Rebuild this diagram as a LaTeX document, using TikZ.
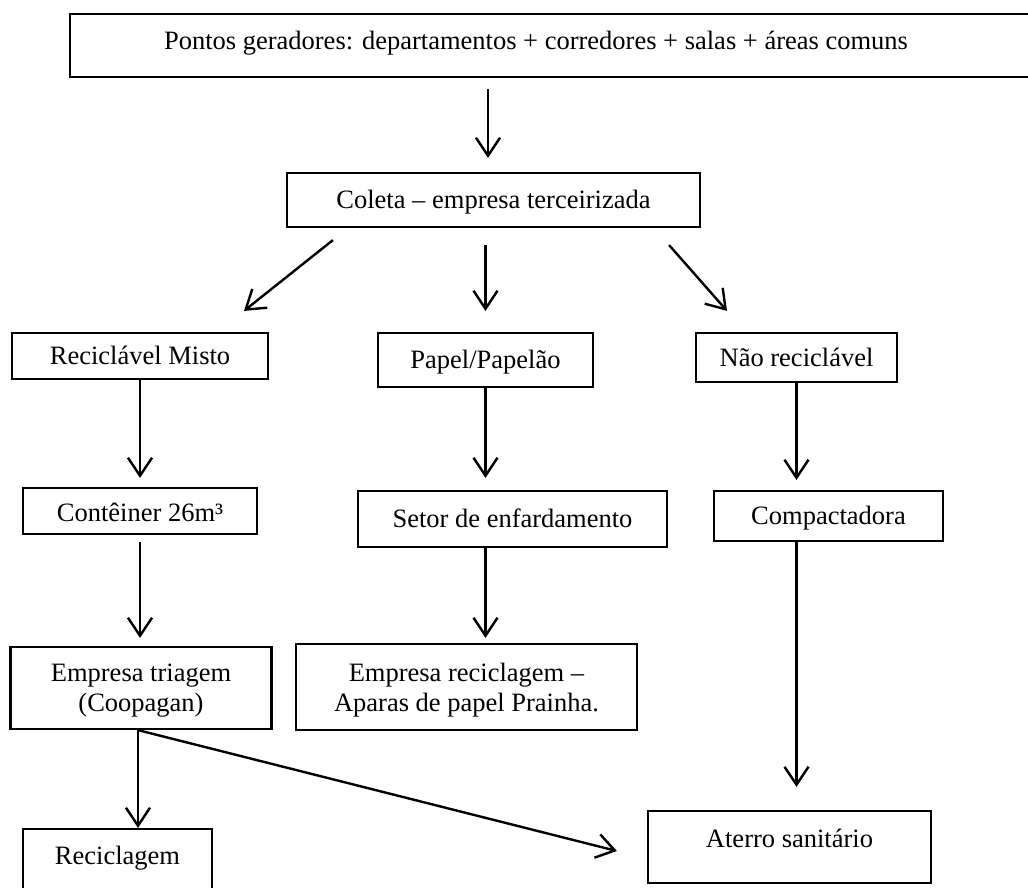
\documentclass[tikz,border=0pt]{standalone}
\usepackage{fontspec}
\setmainfont{Liberation Serif}
\usetikzlibrary{arrows.meta}
\tikzset{
  box/.style={draw, line width=2.2pt, inner sep=2pt, text height=17pt, text depth=0pt},
  flow/.style={line width=2.4pt, -{Straight Barb[length=18pt,width=24pt]}}
}
\begin{document}
\begin{tikzpicture}[x=1pt, y=-1pt, font=\fontsize{26.5}{30}\selectfont]
      \useasboundingbox (0,0) rectangle (1028,888);
      \draw
        (555,45.5) node[box, minimum width=970pt, minimum height=63pt, text depth=8pt] (src)
          {\hspace*{-38pt}Pontos geradores: departamentos + corredores + salas + áreas comuns}
        (493.5,200) node[box, minimum width=413pt, minimum height=54pt] (coleta) {Coleta – empresa terceirizada}
        (140,356) node[box, minimum width=256pt, minimum height=46pt] (misto) {Reciclável Misto}
        (485.5,360) node[box, minimum width=215pt, minimum height=54pt] (papel) {Papel/Papelão}
        (796.5,357.5) node[box, minimum width=201pt, minimum height=49pt] (naorec) {Não reciclável}
        (140,511) node[box, minimum width=234pt, minimum height=46pt, text height=21pt] (conteiner) {Contêiner 26m³}
        (512.5,519) node[box, minimum width=309pt, minimum height=56pt] (setor) {Setor de enfardamento}
        (828.5,516) node[box, minimum width=229pt, minimum height=50pt] (compact) {Compactadora}
        (141,688) node[box, align=center, minimum width=261pt, minimum height=82pt, text height=46pt] (triagem) {Empresa triagem\\(Coopagan)}
        (466.5,687) node[box, align=center, minimum width=341pt, minimum height=86pt, text height=48pt] (reclagem) {Empresa reciclagem –\\Aparas de papel Prainha.}
        (117.5,864) node[box, anchor=base, minimum width=189pt, inner ysep=0pt, text height=35pt, text depth=40pt] (recic) {Reciclagem}
        (789.5,847) node[box, anchor=base, minimum width=283pt, inner ysep=0pt, text height=36pt, text depth=36pt] (aterro) {Aterro sanitário};
      \begin{scope}[flow]
        \draw[shorten <=11pt, shorten >=14pt] ([xshift=-5.5pt]coleta.north |- src.south) to ([xshift=-5.5pt]coleta.north);
        \draw ([xshift=47pt, yshift=-12pt]coleta.south west) to ([xshift=104pt, yshift=21pt]misto.north);
        \draw[shorten <=17pt, shorten >=21pt] (papel.north |- coleta.south) to (papel.north);
        \draw ([xshift=-32pt, yshift=-17pt]coleta.south east) to ([xshift=-69.5pt, yshift=21pt]naorec.north);
        \draw[shorten >=9pt] (misto.south) to (conteiner.north);
        \draw[shorten >=12pt] (papel.south) to (papel.south |- setor.north);
        \draw[shorten >=10pt] (naorec.south) to (naorec.south |- compact.north);
        \draw[shorten <=7pt, shorten >=8pt] (conteiner.south) to (conteiner.south |- triagem.north);
        \draw[shorten >=5pt] (papel.south |- setor.south) to (papel.south |- reclagem.north);
        \draw[shorten >=23pt] (naorec.south |- compact.south) to (naorec.south |- aterro.north);
        \draw ([xshift=-3pt]triagem.south) to ([xshift=-3pt]triagem.south |- recic.north);
        \draw ([xshift=-3pt]triagem.south) to ([xshift=-30pt, yshift=-4pt]aterro.west);
      \end{scope}
    \end{tikzpicture}
\end{document}
